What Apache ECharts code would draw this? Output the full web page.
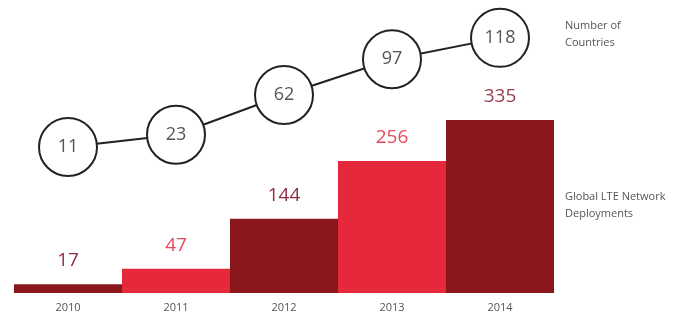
<!DOCTYPE html>
<html><head><meta charset="utf-8">
<script src="https://cdn.jsdelivr.net/npm/echarts@6/dist/echarts.min.js"></script>
<style>html,body{margin:0;padding:0;background:#fff}#c{width:699px;height:323px}</style>
</head><body><div id="c"></div>
<script>
const years = ['2010','2011','2012','2013','2014'];
const deployments = [17, 47, 144, 256, 335];
const countries = [11, 23, 62, 97, 118];
const barColors = ['#8a171c','#e5283a','#8a171c','#e5283a','#8a171c'];
const labelColors = ['#8c2f42','#e8475a','#8c2f42','#e8475a','#9a3d50'];
const font = 'Open Sans, Noto Sans, sans-serif';

const chart = echarts.init(document.getElementById('c'));
chart.setOption({
  animation: false,
  backgroundColor: '#fff',
  grid: {left: 14, right: 145, top: 20, bottom: 30},
  xAxis: {
    type: 'category', data: years,
    axisLine: {show: false}, axisTick: {show: false},
    axisLabel: {color: '#555', fontSize: 11, fontFamily: font, margin: 9}
  },
  yAxis: [
    {type: 'value', min: 0, max: 529, show: false},
    {type: 'value', min: -132, max: 135.5, show: false}
  ],
  series: [
    {
      type: 'bar', yAxisIndex: 0, barCategoryGap: '0%',
      data: deployments.map((v, i) => ({
        value: v,
        itemStyle: {color: barColors[i]},
        label: {color: labelColors[i]}
      })),
      label: {show: true, position: 'top', distance: 14, fontSize: 19, fontFamily: font}
    },
    {
      type: 'line', yAxisIndex: 1, z: 5,
      data: countries,
      symbol: 'circle', symbolSize: 58,
      lineStyle: {color: '#222', width: 2},
      itemStyle: {color: '#fff', borderColor: '#222', borderWidth: 2},
      label: {show: true, position: 'inside', color: '#555', fontSize: 18, fontFamily: font}
    }
  ],
  graphic: [
    {type: 'text', left: 565, top: 17, style: {text: 'Number of\nCountries', fill: '#555', font: '11px ' + font, lineHeight: 17}},
    {type: 'text', left: 565, top: 188, style: {text: 'Global LTE Network\nDeployments', fill: '#555', font: '11px ' + font, lineHeight: 17}}
  ]
});
</script></body></html>
